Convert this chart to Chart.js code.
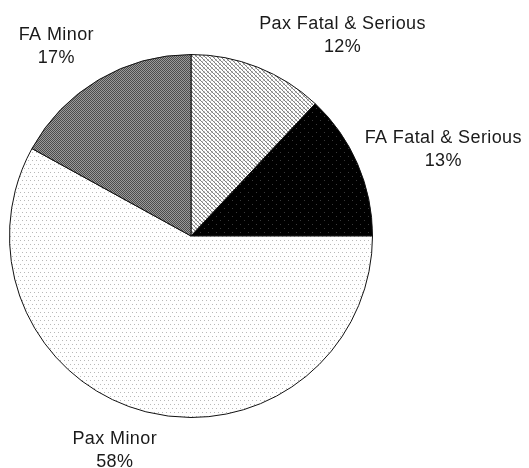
<!DOCTYPE html>
<html>
<head>
<meta charset="utf-8">
<script src="https://cdn.jsdelivr.net/npm/chart.js@4/dist/chart.umd.min.js"></script>
<style>
html,body{margin:0;padding:0;background:#fff;}
#wrap{width:529px;height:468px;}
</style>
</head>
<body>
<div id="wrap"><canvas id="c" width="529" height="468"></canvas></div>
<script>
const categories = ["Pax Fatal & Serious", "FA Fatal & Serious", "Pax Minor", "FA Minor"];
const percentValues = [12, 13, 58, 17];
const percentLabels = ["12%", "13%", "58%", "17%"];

function makePattern(size, draw) {
  const c = document.createElement('canvas');
  c.width = size; c.height = size;
  const g = c.getContext('2d');
  draw(g, size);
  return document.getElementById('c').getContext('2d').createPattern(c, 'repeat');
}
// crosshatch (light)
const patHatch = makePattern(4, (g, s) => {
  g.fillStyle = '#ffffff'; g.fillRect(0, 0, s, s);
  g.fillStyle = '#808080';
  g.fillRect(0, 0, 1, 1); g.fillRect(1, 1, 1, 1); g.fillRect(2, 2, 1, 1); g.fillRect(3, 3, 1, 1);
  g.fillStyle = '#c0c0c0';
  g.fillRect(3, 0, 1, 1); g.fillRect(0, 3, 1, 1); g.fillRect(2, 1, 1, 1);
});
// black with sparse light dots
const patBlack = makePattern(8, (g, s) => {
  g.fillStyle = '#000000'; g.fillRect(0, 0, s, s);
  g.fillStyle = '#3a3a3a';
  g.fillRect(0, 0, 1, 1); g.fillRect(4, 4, 1, 1);
});
// sparse gray dots on white
const patDots = makePattern(8, (g, s) => {
  g.fillStyle = '#ffffff'; g.fillRect(0, 0, s, s);
  g.fillStyle = '#b8b8b8';
  g.fillRect(0, 0, 1, 1); g.fillRect(4, 0, 1, 1); g.fillRect(2, 4, 1, 1); g.fillRect(6, 4, 1, 1);
});
// gray checkerboard
const patChecker = makePattern(2, (g, s) => {
  g.fillStyle = '#9a9a9a'; g.fillRect(0, 0, s, s);
  g.fillStyle = '#4c4c4c';
  g.fillRect(0, 0, 1, 1); g.fillRect(1, 1, 1, 1);
});

const labelPlugin = {
  id: 'outerLabels',
  afterDatasetsDraw(chart, args, opts) {
    const ctx = chart.ctx;
    const meta = chart.getDatasetMeta(0);
    ctx.save();
    ctx.font = '18px "Liberation Sans", Arial, sans-serif';
    if ('letterSpacing' in ctx) ctx.letterSpacing = '0.4px';
    ctx.fillStyle = '#1a1a1a';
    ctx.textAlign = 'center';
    ctx.textBaseline = 'middle';
    meta.data.forEach((arc, i) => {
      const o = opts.offsets[i];
      const x = arc.x + arc.outerRadius * o[0];
      const y = arc.y + arc.outerRadius * o[1];
      ctx.fillText(chart.data.labels[i], x, y);
      ctx.fillText(percentLabels[i], x, y + 23);
    });
    ctx.restore();
  }
};

new Chart(document.getElementById('c'), {
  type: 'pie',
  data: {
    labels: categories,
    datasets: [{
      data: percentValues,
      backgroundColor: [patHatch, patBlack, patDots, patChecker],
      borderColor: '#111111',
      borderWidth: 1,
      hoverOffset: 0
    }]
  },
  options: {
    responsive: false,
    animation: false,
    events: [],
    layout: { padding: { top: 54, bottom: 50, left: 9, right: 156 } },
    plugins: {
      legend: { display: false },
      tooltip: { enabled: false },
      outerLabels: {
        offsets: [[0.835, -1.168], [1.39, -0.54], [-0.42, 1.12], [-0.742, -1.11]]
      }
    }
  },
  plugins: [labelPlugin]
});
</script>
</body>
</html>
